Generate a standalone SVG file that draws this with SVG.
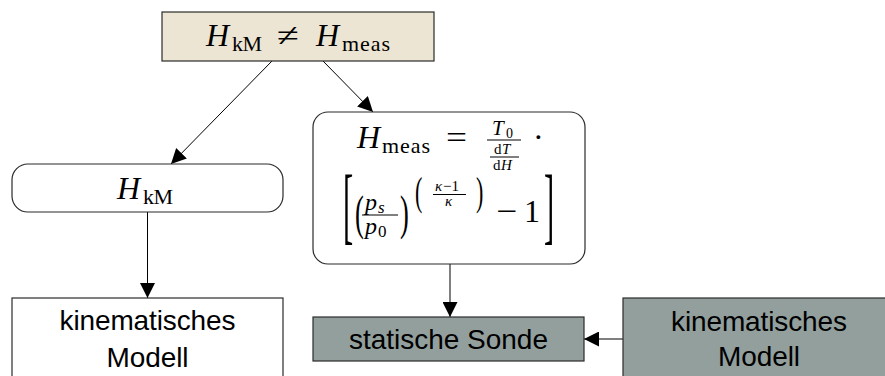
<svg xmlns="http://www.w3.org/2000/svg" width="885" height="376" viewBox="0 0 885 376">
  <style>
    .box { stroke: #2b2b2b; stroke-width: 1.2; }
    .beige { fill: #ede5d3; }
    .gray { fill: #929f9d; }
    .white { fill: #ffffff; }
    .edge { stroke: #000; stroke-width: 1; fill: none; }
    .mi { font-family: "Liberation Serif", serif; font-style: italic; fill: #000; }
    .mr { font-family: "Liberation Serif", serif; fill: #000; }
    .sans { font-family: "Liberation Sans", Arial, sans-serif; font-size: 28px; fill: #000; text-anchor: middle; }
    .bar { stroke: #000; stroke-width: 1; }
  </style>
  <defs>
    <marker id="ah" markerWidth="15" markerHeight="15" refX="15" refY="7.5" orient="auto" markerUnits="userSpaceOnUse">
      <path d="M0,0 L15,7.5 L0,15 z" fill="#000"/>
    </marker>
  </defs>

  <!-- connectors -->
  <g id="connectors">
    <line class="edge" x1="272" y1="61" x2="171" y2="164" marker-end="url(#ah)"/>
    <line class="edge" x1="323" y1="61" x2="373" y2="112" marker-end="url(#ah)"/>
    <line class="edge" x1="147.5" y1="212" x2="147.5" y2="298" marker-end="url(#ah)"/>
    <line class="edge" x1="450" y1="264" x2="450" y2="317" marker-end="url(#ah)"/>
    <line class="edge" x1="623" y1="339" x2="584" y2="339" marker-end="url(#ah)"/>
  </g>

  <!-- top comparison node -->
  <g id="compare">
    <rect class="box beige" x="162" y="12" width="272" height="49"/>
    <text class="mi" x="206" y="46" font-size="32">H</text>
    <text class="mr" x="232" y="51" font-size="22" textLength="30" lengthAdjust="spacing">kM</text>
    <text class="mr" x="277" y="46" font-size="32" textLength="22" lengthAdjust="spacingAndGlyphs">≠</text>
    <text class="mi" x="316" y="46" font-size="32">H</text>
    <text class="mr" x="342" y="51" font-size="22" textLength="48" lengthAdjust="spacing">meas</text>
  </g>

  <!-- kinematic model height -->
  <g id="hkm">
    <rect class="box white" x="12" y="164" width="271" height="48" rx="16" ry="16"/>
    <text class="mi" x="117" y="199" font-size="32">H</text>
    <text class="mr" x="143" y="204" font-size="22" textLength="30" lengthAdjust="spacing">kM</text>
  </g>

  <!-- measured height formula -->
  <g id="hmeas">
    <rect class="box white" x="313" y="112" width="272" height="152" rx="15" ry="15"/>
    <!-- line 1: H_meas = T_0 / (dT/dH) -->
    <text class="mi" x="357" y="148" font-size="32">H</text>
    <text class="mr" x="382" y="153" font-size="22" textLength="48" lengthAdjust="spacing">meas</text>
    <text class="mr" x="446" y="148" font-size="32" textLength="21" lengthAdjust="spacingAndGlyphs">=</text>
    <text class="mi" x="492" y="135" font-size="21">T</text>
    <text class="mr" x="506" y="137.5" font-size="14">0</text>
    <line class="bar" x1="487" y1="140" x2="521" y2="140"/>
    <text class="mr" x="494" y="154" font-size="15">d</text>
    <text class="mi" x="502" y="154" font-size="15">T</text>
    <line class="bar" x1="490" y1="157" x2="519" y2="157" stroke-width="0.8"/>
    <text class="mr" x="493" y="170" font-size="15">d</text>
    <text class="mi" x="501" y="170" font-size="15">H</text>
    <text class="mr" x="533" y="148" font-size="32">·</text>
    <!-- line 2: [ (p_s/p_0)^((κ-1)/κ) - 1 ] -->
    <text class="mr" transform="translate(343 233.5) scale(0.36 1)" font-size="85">[</text>
    <text class="mr" transform="translate(355 229) scale(0.55 1)" font-size="48">(</text>
    <text class="mi" x="365" y="210" font-size="24">p</text>
    <text class="mi" x="378" y="213" font-size="17">s</text>
    <line class="bar" x1="362" y1="215" x2="398" y2="215"/>
    <text class="mi" x="365" y="234" font-size="24">p</text>
    <text class="mr" x="378" y="237" font-size="17">0</text>
    <text class="mr" transform="translate(400 229) scale(0.55 1)" font-size="48">)</text>
    <text class="mr" transform="translate(415 205) scale(0.55 1)" font-size="40">(</text>
    <text class="mi" x="435" y="191" font-size="15">κ</text>
    <text class="mr" x="443" y="191" font-size="15">−1</text>
    <line class="bar" x1="433" y1="194.5" x2="466" y2="194.5" stroke-width="0.8"/>
    <text class="mi" x="445" y="206" font-size="15">κ</text>
    <text class="mr" transform="translate(476 205) scale(0.55 1)" font-size="40">)</text>
    <text class="mr" x="496" y="222" font-size="32" textLength="21" lengthAdjust="spacingAndGlyphs">−</text>
    <text class="mr" x="524" y="222" font-size="32">1</text>
    <text class="mr" transform="translate(544 233.5) scale(0.36 1)" font-size="85">]</text>
  </g>

  <!-- kinematic model (left) -->
  <g id="model-left">
    <rect class="box white" x="12" y="298" width="271" height="82"/>
    <text class="sans" x="147.5" y="330" textLength="176" lengthAdjust="spacing">kinematisches</text>
    <text class="sans" x="147.5" y="367" textLength="82" lengthAdjust="spacing">Modell</text>
  </g>

  <!-- static probe -->
  <g id="probe">
    <rect class="box gray" x="313" y="317" width="271" height="44"/>
    <text class="sans" x="448.5" y="349" textLength="199" lengthAdjust="spacing">statische Sonde</text>
  </g>

  <!-- kinematic model (right) -->
  <g id="model-right">
    <rect class="box gray" x="623" y="298" width="271" height="82"/>
    <text class="sans" x="759" y="331" textLength="176" lengthAdjust="spacing">kinematisches</text>
    <text class="sans" x="759" y="366" textLength="82" lengthAdjust="spacing">Modell</text>
  </g>
</svg>
